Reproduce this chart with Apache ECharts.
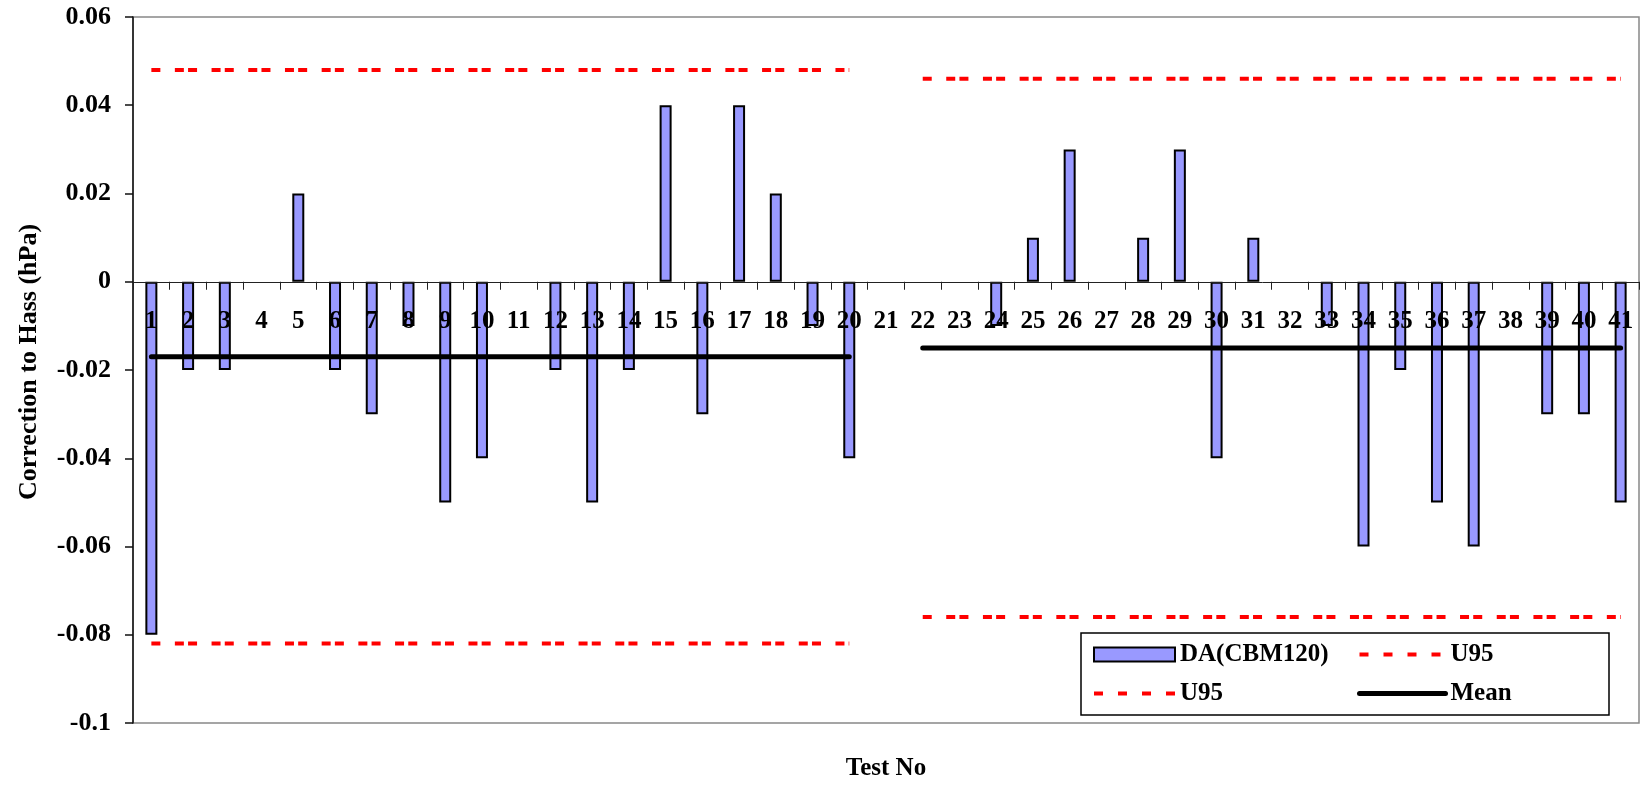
<!DOCTYPE html>
<html>
<head>
<meta charset="utf-8">
<title>Correction to Hass</title>
<script src="https://cdn.jsdelivr.net/npm/echarts@6/dist/echarts.min.js"></script>
<style>
  html, body { margin: 0; padding: 0; background: #ffffff; }
  #chart { width: 1641px; height: 787px; }
</style>
</head>
<body>
<div id="chart"></div>
<script>
// Test numbers along the category axis
const testNos = ['1','2','3','4','5','6','7','8','9','10','11','12','13','14','15','16','17','18','19','20','21',
                 '22','23','24','25','26','27','28','29','30','31','32','33','34','35','36','37','38','39','40','41'];

// Correction to Hass per test (hPa), DA(CBM120)
const daCbm120 = [-0.08, -0.02, -0.02, 0, 0.02, -0.02, -0.03, -0.01, -0.05, -0.04, 0, -0.02, -0.05, -0.02, 0.04, -0.03, 0.04, 0.02, -0.01, -0.04,
                  0,
                  0, 0, -0.01, 0.01, 0.03, 0, 0.01, 0.03, -0.04, 0.01, 0, -0.01, -0.06, -0.02, -0.05, -0.06, 0, -0.03, -0.03, -0.05];

// Upper and lower U95 limits and the mean, one value per test (test 21 has none)
const u95Upper = [0.048, 0.048, 0.048, 0.048, 0.048, 0.048, 0.048, 0.048, 0.048, 0.048, 0.048, 0.048, 0.048, 0.048, 0.048, 0.048, 0.048, 0.048, 0.048, 0.048,
                  null,
                  0.046, 0.046, 0.046, 0.046, 0.046, 0.046, 0.046, 0.046, 0.046, 0.046, 0.046, 0.046, 0.046, 0.046, 0.046, 0.046, 0.046, 0.046, 0.046, 0.046];
const u95Lower = [-0.082, -0.082, -0.082, -0.082, -0.082, -0.082, -0.082, -0.082, -0.082, -0.082, -0.082, -0.082, -0.082, -0.082, -0.082, -0.082, -0.082, -0.082, -0.082, -0.082,
                  null,
                  -0.076, -0.076, -0.076, -0.076, -0.076, -0.076, -0.076, -0.076, -0.076, -0.076, -0.076, -0.076, -0.076, -0.076, -0.076, -0.076, -0.076, -0.076, -0.076, -0.076];
const meanValues = [-0.017, -0.017, -0.017, -0.017, -0.017, -0.017, -0.017, -0.017, -0.017, -0.017, -0.017, -0.017, -0.017, -0.017, -0.017, -0.017, -0.017, -0.017, -0.017, -0.017,
                    null,
                    -0.015, -0.015, -0.015, -0.015, -0.015, -0.015, -0.015, -0.015, -0.015, -0.015, -0.015, -0.015, -0.015, -0.015, -0.015, -0.015, -0.015, -0.015, -0.015, -0.015];

// Value axis range and step
const yMin = -0.1;
const yMax = 0.06;
const yStep = 0.02;

const FONT = '"Liberation Serif", "Times New Roman", serif';
const BLACK = '#000000';
const RED = '#ff0000';
const plotDash = [9, 14.5, 9, 4.2];
const legendDash = [9, 15];

const legendText = {
  fontFamily: FONT, fontWeight: 'bold', fontSize: 25, color: BLACK, lineHeight: 25
};
const legendName = (name) => (name.indexOf('U95') === 0 ? 'U95' : name);

// zero-height bars get no outline so nothing shows on the axis
const barData = daCbm120.map((v) => (v === 0 ? { value: v, itemStyle: { borderWidth: 0 } } : v));

const chart = echarts.init(document.getElementById('chart'), null, { renderer: 'canvas' });

chart.setOption({
  animation: false,
  backgroundColor: '#ffffff',
  grid: {
    left: 133, right: 2, top: 17, bottom: 64,
    show: true, borderColor: '#888888', borderWidth: 1.5, backgroundColor: 'transparent'
  },
  xAxis: {
    type: 'category',
    data: testNos,
    z: 5,
    axisLine: { onZero: false, lineStyle: { color: '#222222', width: 1 } },
    axisTick: { show: true, interval: 0, length: 8, lineStyle: { color: '#222222', width: 1 } },
    axisLabel: {
      interval: 0, margin: 27, color: BLACK,
      fontFamily: FONT, fontWeight: 'bold', fontSize: 25
    },
    splitLine: { show: false }
  },
  yAxis: {
    type: 'value',
    min: yMin, max: yMax, interval: yStep,
    name: 'Correction to Hass (hPa)',
    nameLocation: 'middle',
    nameRotate: 90,
    nameGap: 91,
    nameMoveOverlap: false,
    nameTextStyle: {
      fontFamily: FONT, fontWeight: 'bold', fontSize: 26, color: BLACK,
      padding: [0, 0, 0, 16]
    },
    axisLine: { show: true, lineStyle: { color: '#111111', width: 1.5 } },
    axisTick: { show: true, length: 8, lineStyle: { color: '#111111', width: 1.5 } },
    axisLabel: {
      margin: 22, color: BLACK,
      fontFamily: FONT, fontWeight: 'bold', fontSize: 26,
      formatter: (v) => String(Number(v.toFixed(3)))
    },
    splitLine: { show: false }
  },
  legend: [
    {
      orient: 'vertical', left: 1092, top: 642, padding: 0,
      itemWidth: 81, itemHeight: 14, itemGap: 14, z: 20,
      selectedMode: false,
      textStyle: legendText,
      formatter: legendName,
      data: [
        { name: 'DA(CBM120)', icon: 'rect' },
        { name: 'U95 lower', itemStyle: { opacity: 0 }, lineStyle: { type: legendDash, width: 4 } }
      ]
    },
    {
      orient: 'vertical', left: 1357, top: 642, padding: 0,
      itemWidth: 86, itemHeight: 14, itemGap: 14, z: 20,
      selectedMode: false,
      textStyle: legendText,
      formatter: legendName,
      data: [
        { name: 'U95 upper', itemStyle: { opacity: 0 }, lineStyle: { type: legendDash, width: 4 } },
        { name: 'Mean', itemStyle: { opacity: 0 }, lineStyle: { width: 5, cap: 'round' } }
      ]
    }
  ],
  graphic: [
    {
      type: 'rect', z: 10,
      shape: { x: 1081, y: 633, width: 528, height: 82 },
      style: { fill: '#ffffff', stroke: BLACK, lineWidth: 1.5 }
    },
    {
      type: 'text', z: 10, x: 886, y: 769,
      style: {
        text: 'Test No', fill: BLACK,
        font: 'bold 25px "Liberation Serif", "Times New Roman", serif',
        align: 'center', verticalAlign: 'middle'
      }
    }
  ],
  series: [
    {
      name: 'DA(CBM120)',
      type: 'bar',
      data: barData,
      barWidth: 12,
      z: 2,
      itemStyle: { color: '#9999ff', borderColor: BLACK, borderWidth: 2 }
    },
    {
      name: 'U95 upper',
      type: 'line',
      data: u95Upper,
      symbol: 'none',
      z: 3,
      itemStyle: { color: RED },
      lineStyle: { color: RED, width: 4, type: plotDash }
    },
    {
      name: 'U95 lower',
      type: 'line',
      data: u95Lower,
      symbol: 'none',
      z: 3,
      itemStyle: { color: RED },
      lineStyle: { color: RED, width: 4, type: plotDash }
    },
    {
      name: 'Mean',
      type: 'line',
      data: meanValues,
      symbol: 'none',
      z: 4,
      itemStyle: { color: BLACK },
      lineStyle: { color: BLACK, width: 5, cap: 'round' }
    }
  ]
});

// Move the category axis up so it crosses the value axis at 0
const zeroPx = chart.convertToPixel({ yAxisIndex: 0 }, 0);
const basePx = chart.convertToPixel({ yAxisIndex: 0 }, yMin);
chart.setOption({ xAxis: { offset: zeroPx - basePx } });
</script>
</body>
</html>
